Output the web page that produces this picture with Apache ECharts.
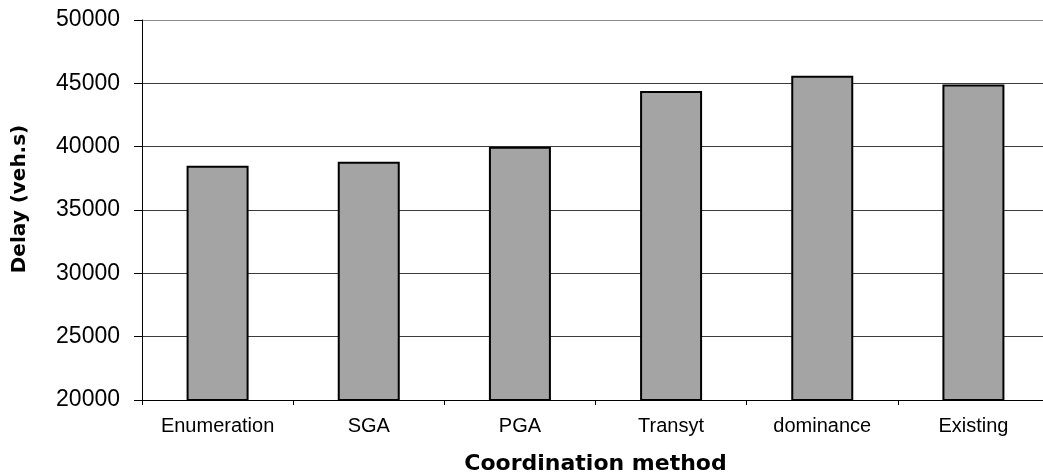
<!DOCTYPE html>
<html>
<head>
<meta charset="utf-8">
<style>
  html, body { margin: 0; padding: 0; background: #fff; }
  #chart { width: 1043px; height: 475px; }
</style>
<script src="https://cdn.jsdelivr.net/npm/echarts@6/dist/echarts.min.js"></script>
</head>
<body>
<div id="chart"></div>
<script>
// Total delay per coordination method
const methods = ['Enumeration', 'SGA', 'PGA', 'Transyt', 'dominance', 'Existing'];
const delays = [38500, 38800, 40000, 44400, 45600, 44900];
const yTicks = [20000, 25000, 30000, 35000, 40000, 45000, 50000];

const chart = echarts.init(document.getElementById('chart'), null, { renderer: 'canvas' });

// Split lines are dark except the top one, which is lighter
const splitColors = yTicks.map((v, i) => (i === yTicks.length - 1 ? '#8a8a8a' : '#3c3c3c'));

chart.setOption({
  animation: false,
  backgroundColor: '#ffffff',
  grid: { left: 142, right: -6, top: 20, bottom: 75, containLabel: false, outerBoundsMode: 'none' },
  graphic: [{
    type: 'text',
    x: 20,
    y: 199,
    rotation: Math.PI / 2,
    style: {
      text: 'Delay (veh.s)',
      fontFamily: 'DejaVu Sans',
      fontWeight: 'bold',
      fontSize: 20,
      fill: '#000',
      align: 'center',
      verticalAlign: 'middle'
    }
  }],
  xAxis: {
    type: 'category',
    data: methods,
    name: 'Coordination method',
    nameLocation: 'middle',
    nameGap: 53,
    nameTextStyle: { fontFamily: 'DejaVu Sans', fontWeight: 'bold', fontSize: 22, color: '#000' },
    axisLine: { lineStyle: { color: '#000', width: 1 } },
    axisTick: { show: true, length: 5, alignWithLabel: false, lineStyle: { color: '#000' } },
    axisLabel: { fontFamily: 'Liberation Sans', fontSize: 20, color: '#000', margin: 16, interval: 0 },
    splitLine: { show: false }
  },
  yAxis: {
    type: 'value',
    min: yTicks[0],
    max: yTicks[yTicks.length - 1],
    interval: 5000,
    axisLine: { show: true, lineStyle: { color: '#000', width: 1 } },
    axisTick: { show: true, length: 8, inside: false, lineStyle: { color: '#000' } },
    axisLabel: {
      fontFamily: 'Liberation Sans', fontSize: 23, color: '#000', margin: 22,
      formatter: (v) => String(v)
    },
    splitLine: { show: true, lineStyle: { color: splitColors, width: 1 } }
  },
  series: [{
    type: 'bar',
    data: delays,
    barWidth: 62,
    itemStyle: { color: '#a4a4a4', borderColor: '#000', borderWidth: 2 }
  }]
});
</script>
</body>
</html>
